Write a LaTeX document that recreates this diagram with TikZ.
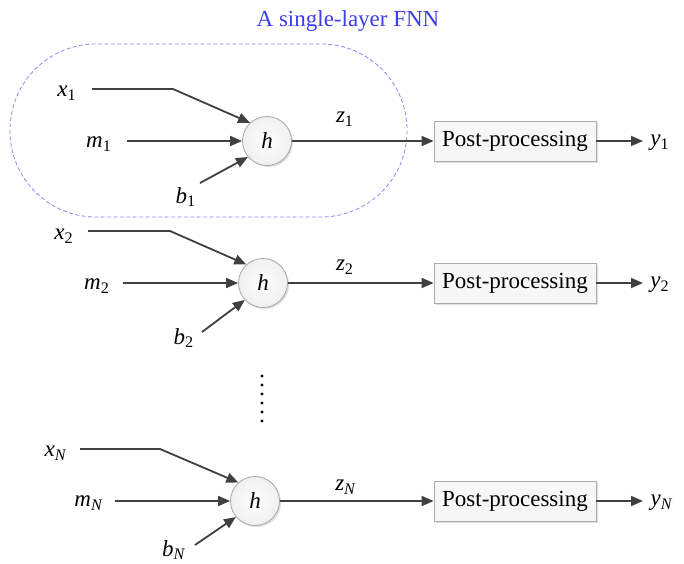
\documentclass[tikz,border=0pt]{standalone}
\usepackage{fontspec}
\setmainfont{Liberation Serif}
\usetikzlibrary{arrows.meta,shadows}
\definecolor{linec}{HTML}{404040}
\definecolor{titlec}{HTML}{3C3CF0}
\definecolor{dashc}{HTML}{8A8AF5}
\newcommand\lab[2]{\textit{#1}\textsubscript{#2}}
\begin{document}
\begin{tikzpicture}[x=0.5pt,y=-0.5pt,
  font=\fontsize{11.5}{13.8}\selectfont,
  conn/.style={draw=linec,line width=0.9pt,-{Triangle[length=6pt,width=5pt]}},
  hnode/.style={circle,draw=gray!70,minimum size=24.5pt,inner sep=0pt,
    inner color=white,outer color=gray!12,
    drop shadow={shadow xshift=0.8pt,shadow yshift=-0.8pt,opacity=0.25}},
  pbox/.style={draw=gray!65,fill=gray!6,minimum width=81pt,minimum height=20pt,inner sep=0pt,
    drop shadow={shadow xshift=1pt,shadow yshift=-1pt,opacity=0.25}},
  lbl/.style={inner sep=0pt}]
\useasboundingbox (0,0) rectangle (684,563);

% group frame and title
\draw[dashc,dashed,dash pattern=on 2pt off 1.2pt,line width=0.4pt,rounded corners=43pt] (10,44) rectangle (407,217);
\node[lbl,text=titlec] (title) at (348,21) {A single-layer FNN};

% row 1
\node[hnode] (h1) at (267,141) {\textit{h}};
\node[pbox] (p1) at (515,141) {Post-processing};
\node[lbl] (x1) at (67,93) {\lab{x}{1}};
\node[lbl] (m1) at (99,144) {\lab{m}{1}};
\node[lbl] (b1) at (186,197) {\lab{b}{1}};
\node[lbl] (z1) at (345,119) {\lab{z}{1}};
\node[lbl] (y1) at (660,143) {\lab{y}{1}};
\coordinate (x1s) at (92,89);
\coordinate (x1b) at (173,89);
\coordinate (m1s) at (127,141);
\coordinate (b1s) at (200,183);
\coordinate (y1e) at (643,141);
\draw[conn] (x1s) -- (x1b) -- (h1.133);
\draw[conn] (m1s) -- (h1);
\draw[conn] (b1s) -- (h1.220);
\draw[conn] (h1) -- (p1);
\draw[conn] (p1) -- (y1e);

% row 2
\node[hnode] (h2) at (263,283) {\textit{h}};
\node[pbox] (p2) at (515,283) {Post-processing};
\node[lbl] (x2) at (64,236) {\lab{x}{2}};
\node[lbl] (m2) at (97,286) {\lab{m}{2}};
\node[lbl] (b2) at (184,338) {\lab{b}{2}};
\node[lbl] (z2) at (345,267) {\lab{z}{2}};
\node[lbl] (y2) at (660,285) {\lab{y}{2}};
\coordinate (x2s) at (88,231);
\coordinate (x2b) at (170,231);
\coordinate (m2s) at (123,283);
\coordinate (b2s) at (202,332);
\coordinate (y2e) at (643,283);
\draw[conn] (x2s) -- (x2b) -- (h2.132);
\draw[conn] (m2s) -- (h2);
\draw[conn] (b2s) -- (h2.223);
\draw[conn] (h2) -- (p2);
\draw[conn] (p2) -- (y2e);

% dots
\foreach \yy in {376,385,394,403,412,421}
  \fill[black] (262,\yy) circle (0.8pt);

% row N
\node[hnode] (hN) at (255,501) {\textit{h}};
\node[pbox] (pN) at (515,501) {Post-processing};
\node[lbl] (xN) at (56,453) {\lab{x}{\textit{N}}};
\node[lbl] (mN) at (89,503) {\lab{m}{\textit{N}}};
\node[lbl] (bN) at (174,550) {\lab{b}{\textit{N}}};
\node[lbl] (zN) at (346,487) {\lab{z}{\textit{N}}};
\node[lbl] (yN) at (662,503) {\lab{y}{\textit{N}}};
\coordinate (xNs) at (80,449);
\coordinate (xNb) at (160,449);
\coordinate (mNs) at (115,501);
\coordinate (bNs) at (195,545);
\coordinate (yNe) at (643,501);
\draw[conn] (xNs) -- (xNb) -- (hN.132);
\draw[conn] (mNs) -- (hN);
\draw[conn] (bNs) -- (hN.220);
\draw[conn] (hN) -- (pN);
\draw[conn] (pN) -- (yNe);
\end{tikzpicture}
\end{document}
